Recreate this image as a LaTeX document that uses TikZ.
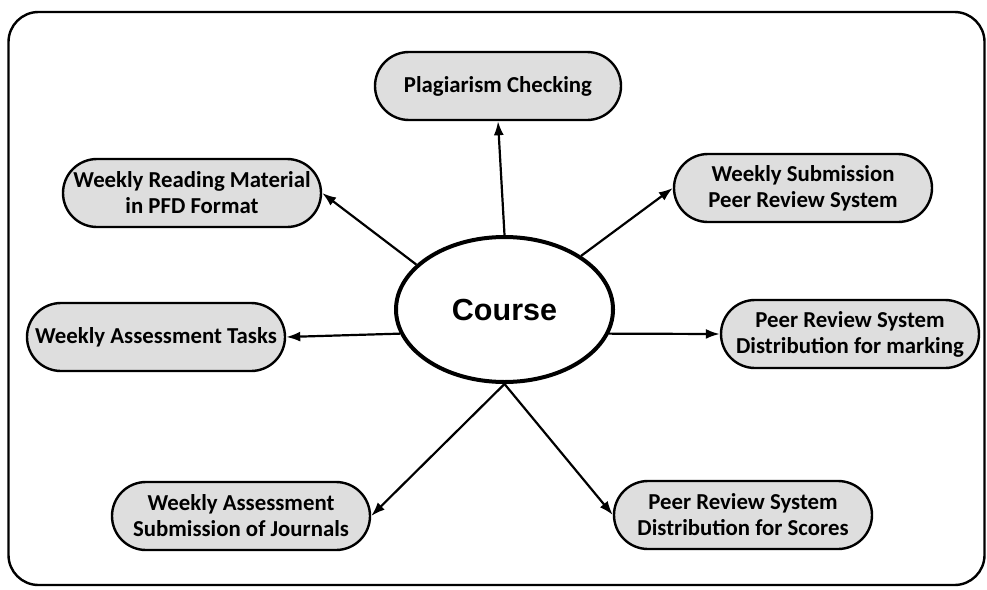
\documentclass[tikz,border=0pt]{standalone}
\usepackage{fontspec}
\setmainfont{Carlito}
\newfontfamily\arialbold{Liberation Sans}[BoldFont={* Bold}]
\usetikzlibrary{shapes.geometric,shapes.misc,arrows.meta}
\definecolor{boxfill}{HTML}{DEDEDE}
\tikzset{
  topic/.style={rounded rectangle, draw=black, line width=2.4pt, fill=boxfill,
    minimum width=258pt, minimum height=68pt, inner sep=0pt, align=center,
    font=\fontsize{22.8}{26}\selectfont\bfseries},
  hub/.style={ellipse, draw=black, line width=4pt, fill=white,
    minimum width=217pt, minimum height=145pt, inner sep=0pt,
    font=\arialbold\fontsize{30.5}{34}\selectfont\bfseries},
  link/.style={line width=2.2pt, -{Latex[length=14pt,width=10pt]}},
  frame/.style={draw=black, line width=2.4pt, rounded corners=30pt}
}
\begin{document}
\begin{tikzpicture}[x=1pt,y=-1pt]
\useasboundingbox (0,0) rectangle (987,589);
\node[frame, minimum width=976pt, minimum height=573pt, inner sep=0pt, rectangle] (fr) at (496.5,298.5) {};
\node[hub] (c) at (504.5,309.5) {Course};
\node[topic, minimum width=246pt] (p) at (498,86) {Plagiarism Checking};
\node[topic] (r) at (192,193) {Weekly Reading Material\\in PFD Format};
\node[topic] (w) at (803,188) {Weekly Submission\\Peer Review System};
\node[topic] (t) at (156,337) {Weekly Assessment Tasks};
\node[topic] (m) at (850,334) {Peer Review System\\Distribution for marking};
\node[topic] (j) at (241,516) {Weekly Assessment\\Submission of Journals};
\node[topic] (s) at (743,515) {Peer Review System\\Distribution for Scores};
\draw[link] (c.north) -- (p.south);
\draw[link] (c.153) -- (r.east);
\draw[link] (c.35) -- (w.west);
\draw[link] (c.193) -- (t.east);
\draw[link] (c.347) -- (m.west);
\draw[link] (c.south) -- (j.east);
\draw[link] (c.south) -- (s.west);
\end{tikzpicture}
\end{document}
